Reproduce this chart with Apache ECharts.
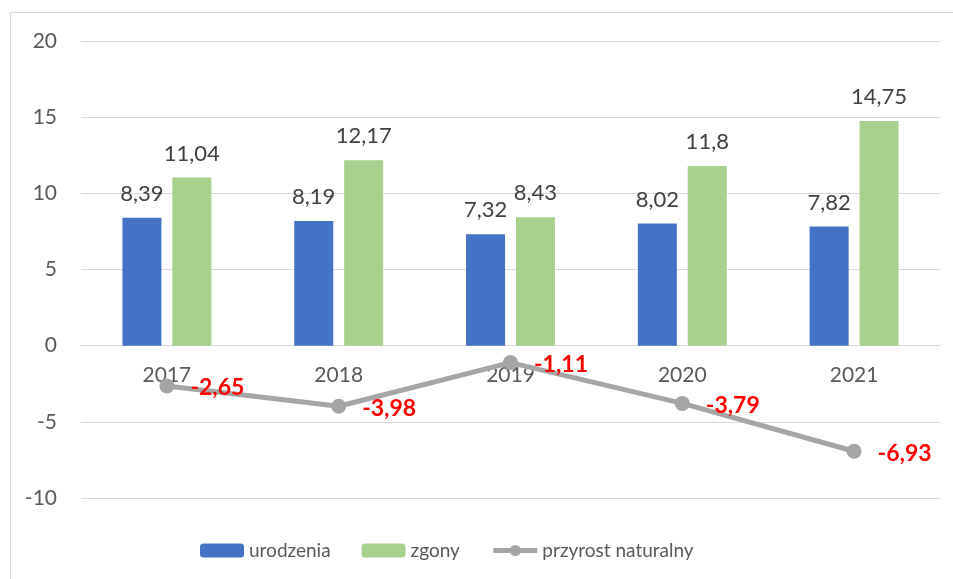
<!DOCTYPE html>
<html>
<head>
<meta charset="utf-8">
<script src="https://cdn.jsdelivr.net/npm/echarts@6/dist/echarts.min.js"></script>
<style>
  html, body { margin: 0; padding: 0; background: #fff; }
  #chart { width: 953px; height: 579px; }
</style>
</head>
<body>
<div id="chart"></div>
<script>
// dane z wykresu
const years = ['2017', '2018', '2019', '2020', '2021'];
const urodzenia = [8.39, 8.19, 7.32, 8.02, 7.82];
const zgony = [11.04, 12.17, 8.43, 11.8, 14.75];
const przyrost = [-2.65, -3.98, -1.11, -3.79, -6.93];
const yTicks = [-10, -5, 0, 5, 10, 15, 20];

const font = 'Lato, "Open Sans", sans-serif';
const comma = v => String(v).replace('.', ',');

const chart = echarts.init(document.getElementById('chart'));

chart.setOption({
  animation: false,
  textStyle: { fontFamily: font },
  graphic: [{
    type: 'rect',
    shape: { x: 10.5, y: 12.5, width: 1000, height: 1000 },
    style: { fill: 'none', stroke: '#D9D9D9', lineWidth: 1 },
    silent: true
  }],
  grid: { left: 81, right: 13, top: 41, bottom: 81, containLabel: false },
  legend: {
    bottom: 14,
    left: 195,
    itemWidth: 44,
    itemHeight: 14,
    itemGap: 31,
    textStyle: { fontFamily: font, fontSize: 19, color: '#595959' },
    data: [
      'urodzenia',
      'zgony',
      { name: 'przyrost naturalny', lineStyle: { width: 5 } }
    ]
  },
  xAxis: {
    type: 'category',
    data: years,
    axisLine: { onZero: true, lineStyle: { color: '#D9D9D9', width: 1 } },
    axisTick: { show: false },
    // etykiety lat przy linii zera (nad dolną krawędzią siatki)
    axisLabel: { fontFamily: font, fontSize: 21, color: '#595959', margin: -133 }
  },
  yAxis: {
    type: 'value',
    min: yTicks[0],
    max: yTicks[yTicks.length - 1],
    interval: 5,
    axisLine: { show: false },
    axisTick: { show: false },
    splitLine: { lineStyle: { color: '#D9D9D9', width: 1 } },
    axisLabel: { fontFamily: font, fontSize: 21, color: '#595959', margin: 24 }
  },
  series: [
    {
      name: 'urodzenia',
      type: 'bar',
      data: urodzenia,
      barWidth: 39,
      barGap: '28%',
      itemStyle: { color: '#4472C4' },
      label: {
        show: true, position: 'top', distance: 13,
        fontFamily: font, fontSize: 22, color: '#404040',
        formatter: p => comma(p.value)
      }
    },
    {
      name: 'zgony',
      type: 'bar',
      data: zgony,
      barWidth: 39,
      itemStyle: { color: '#A9D18E' },
      label: {
        show: true, position: 'top', distance: 13,
        fontFamily: font, fontSize: 22, color: '#404040',
        formatter: p => comma(p.value)
      }
    },
    {
      name: 'przyrost naturalny',
      type: 'line',
      data: przyrost,
      symbol: 'circle',
      symbolSize: 15,
      lineStyle: { color: '#A5A5A5', width: 5 },
      itemStyle: { color: '#A5A5A5' },
      label: {
        show: true, position: 'right', distance: 16, offset: [0, 2],
        fontFamily: font, fontSize: 23, fontWeight: 'bold', color: '#FF0000',
        formatter: p => comma(p.value)
      },
      z: 5
    }
  ]
});
</script>
</body>
</html>
